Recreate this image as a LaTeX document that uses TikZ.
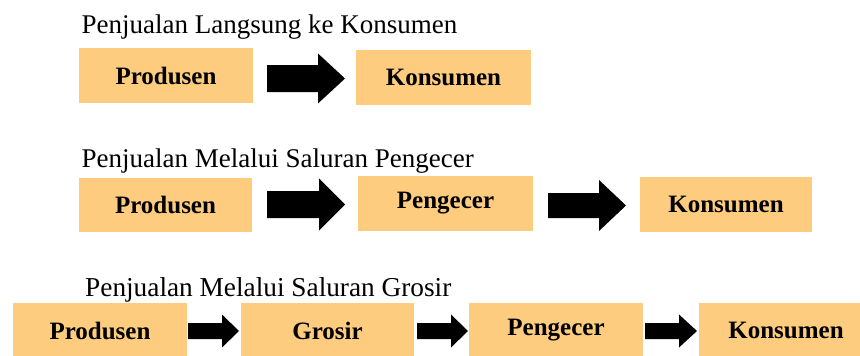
\documentclass[tikz,border=0pt]{standalone}
\usepackage{fontspec}
\setmainfont{Liberation Serif}
\definecolor{boxfill}{RGB}{254,204,127}
\newcommand{\blockarrow}[6]{% x1, xh, x2, yc, shaft half, head half
  \fill[black] (#1,#4-#5) -- (#2,#4-#5) -- (#2,#4-#6) -- (#3,#4) -- (#2,#4+#6) -- (#2,#4+#5) -- (#1,#4+#5) -- cycle;}
\begin{document}
\begin{tikzpicture}[x=1pt,y=-1pt,
  box/.style={fill=boxfill,draw=none,inner sep=0pt,font=\bfseries\fontsize{25}{25}\selectfont},
  title/.style={anchor=base west,inner sep=0pt}]
\useasboundingbox (0,0) rectangle (860,356);
\clip (0,0) rectangle (860,356);
% titles
\node[title,font=\fontsize{27}{27}\selectfont] (t1) at (81.5,33.3) {Penjualan Langsung ke Konsumen};
\node[title,font=\fontsize{27}{27}\selectfont] (t2) at (81.5,167.3) {Penjualan Melalui Saluran Pengecer};
\node[title,font=\fontsize{27.3}{27.3}\selectfont] (t3) at (85,296.3) {Penjualan Melalui Saluran Grosir};
% row 1
\node[box,minimum width=174pt,minimum height=55pt] (p1) at (166,75.5) {Produsen};
\node[box,minimum width=175pt,minimum height=55pt] (k1) at (443.5,77.5) {Konsumen};
\blockarrow{267}{318}{345}{78.5}{13.5}{25}
% row 2
\node[box,minimum width=173pt,minimum height=54pt] (p2) at (165.5,205) {Produsen};
\node[box,minimum width=175pt,minimum height=55pt] (pe2) at (445.5,203.5) {Pengecer};
\node[box,minimum width=172pt,minimum height=55pt] (k2) at (726,204.5) {Konsumen};
\blockarrow{267}{319}{345}{204.5}{13.5}{26}
\blockarrow{548}{599}{626}{205.5}{12.5}{25.5}
% row 3
\node[box,minimum width=174pt,minimum height=55pt] (p3) at (100,330.5) {Produsen};
\node[box,minimum width=173pt,minimum height=55pt] (g3) at (327.5,330.5) {Grosir};
\node[box,minimum width=174pt,minimum height=55pt] (pe3) at (556,330.5) {Pengecer};
\node[box,minimum width=174pt,minimum height=55pt] (k3) at (786,330.5) {Konsumen};
\blockarrow{188}{222}{239}{331}{8}{16.5}
\blockarrow{417}{451}{468}{331}{8}{16.5}
\blockarrow{645}{679}{697}{331}{8}{16.5}
\end{tikzpicture}
\end{document}
